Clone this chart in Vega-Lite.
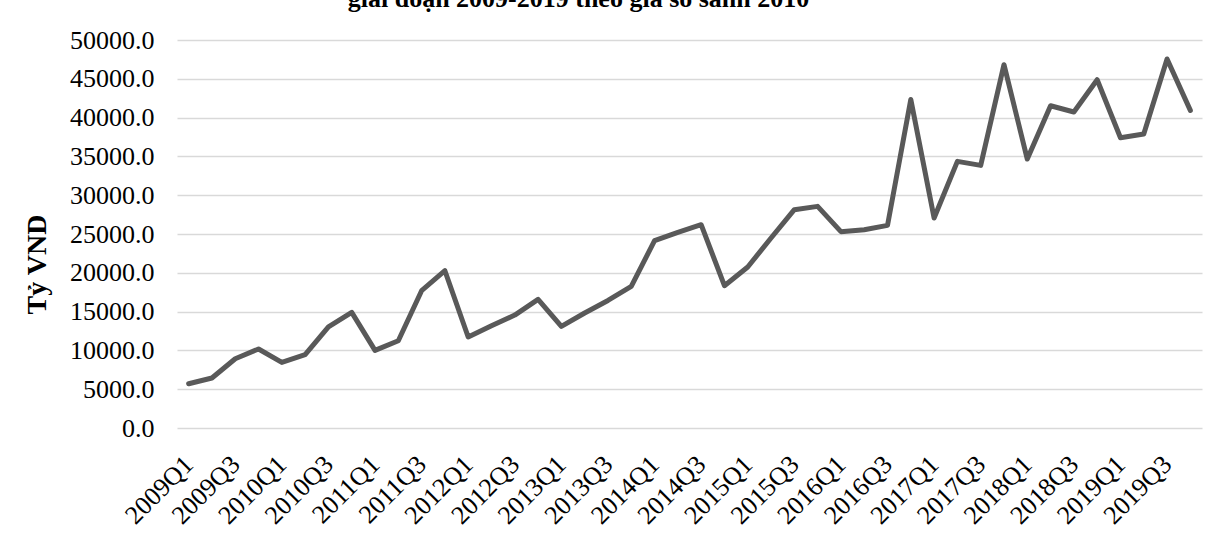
{
  "$schema": "https://vega.github.io/schema/vega-lite/v6.json",
  "autosize": "none",
  "width": 1025,
  "height": 388,
  "padding": {"left": 177, "top": 40, "right": 25, "bottom": 110},
  "background": "white",
  "title": {
    "text": "giai đoạn 2009-2019 theo giá so sánh 2010",
    "font": "Liberation Serif",
    "fontSize": 26,
    "fontWeight": "bold",
    "color": "black",
    "anchor": "middle",
    "dx": -111,
    "baseline": "alphabetic",
    "offset": -6
  },
  "data": {
    "values": [
      {"q": "2009Q1", "v": 5700}, {"q": "2009Q2", "v": 6440}, {"q": "2009Q3", "v": 8930}, {"q": "2009Q4", "v": 10180},
      {"q": "2010Q1", "v": 8450}, {"q": "2010Q2", "v": 9450}, {"q": "2010Q3", "v": 13020}, {"q": "2010Q4", "v": 14900},
      {"q": "2011Q1", "v": 10000}, {"q": "2011Q2", "v": 11250}, {"q": "2011Q3", "v": 17690}, {"q": "2011Q4", "v": 20270},
      {"q": "2012Q1", "v": 11730}, {"q": "2012Q2", "v": 13180}, {"q": "2012Q3", "v": 14550}, {"q": "2012Q4", "v": 16580},
      {"q": "2013Q1", "v": 13090}, {"q": "2013Q2", "v": 14820}, {"q": "2013Q3", "v": 16440}, {"q": "2013Q4", "v": 18250},
      {"q": "2014Q1", "v": 24140}, {"q": "2014Q2", "v": 25210}, {"q": "2014Q3", "v": 26200}, {"q": "2014Q4", "v": 18340},
      {"q": "2015Q1", "v": 20750}, {"q": "2015Q2", "v": 24480}, {"q": "2015Q3", "v": 28130}, {"q": "2015Q4", "v": 28560},
      {"q": "2016Q1", "v": 25300}, {"q": "2016Q2", "v": 25550}, {"q": "2016Q3", "v": 26110}, {"q": "2016Q4", "v": 42330},
      {"q": "2017Q1", "v": 27060}, {"q": "2017Q2", "v": 34360}, {"q": "2017Q3", "v": 33840}, {"q": "2017Q4", "v": 46820},
      {"q": "2018Q1", "v": 34660}, {"q": "2018Q2", "v": 41530}, {"q": "2018Q3", "v": 40720}, {"q": "2018Q4", "v": 44880},
      {"q": "2019Q1", "v": 37410}, {"q": "2019Q2", "v": 37890}, {"q": "2019Q3", "v": 47550}, {"q": "2019Q4", "v": 40930}
    ]
  },
  "mark": {"type": "line", "color": "#595959", "strokeWidth": 5, "strokeJoin": "round", "strokeCap": "round"},
  "encoding": {
    "x": {
      "field": "q",
      "type": "ordinal",
      "sort": null,
      "scale": {"type": "point", "padding": 0.5},
      "axis": {
        "title": null,
        "values": ["2009Q1","2009Q3","2010Q1","2010Q3","2011Q1","2011Q3","2012Q1","2012Q3","2013Q1","2013Q3","2014Q1","2014Q3","2015Q1","2015Q3","2016Q1","2016Q3","2017Q1","2017Q3","2018Q1","2018Q3","2019Q1","2019Q3"],
        "labelAngle": -45,
        "labelAlign": "right",
        "labelBaseline": "middle",
        "labelFont": "Liberation Serif",
        "labelFontSize": 26,
        "labelColor": "black",
        "labelPadding": 32,
        "labelOverlap": false,
        "ticks": false,
        "domain": false,
        "grid": false
      }
    },
    "y": {
      "field": "v",
      "type": "quantitative",
      "scale": {"domain": [0, 50000], "nice": false},
      "axis": {
        "title": "Tỷ VND",
        "titleFont": "Liberation Serif",
        "titleFontSize": 28,
        "titleFontWeight": "bold",
        "titleColor": "black",
        "titleAngle": 270,
        "titleAlign": "center",
        "titleBaseline": "middle",
        "titleX": -140,
        "titleY": 224,
        "values": [0,5000,10000,15000,20000,25000,30000,35000,40000,45000,50000],
        "format": ".1f",
        "labelFont": "Liberation Serif",
        "labelFontSize": 26,
        "labelColor": "black",
        "labelPadding": 23,
        "ticks": false,
        "domain": false,
        "grid": true,
        "gridColor": "#d9d9d9",
        "gridWidth": 1.5
      }
    }
  },
  "config": {"view": {"stroke": null}}
}
